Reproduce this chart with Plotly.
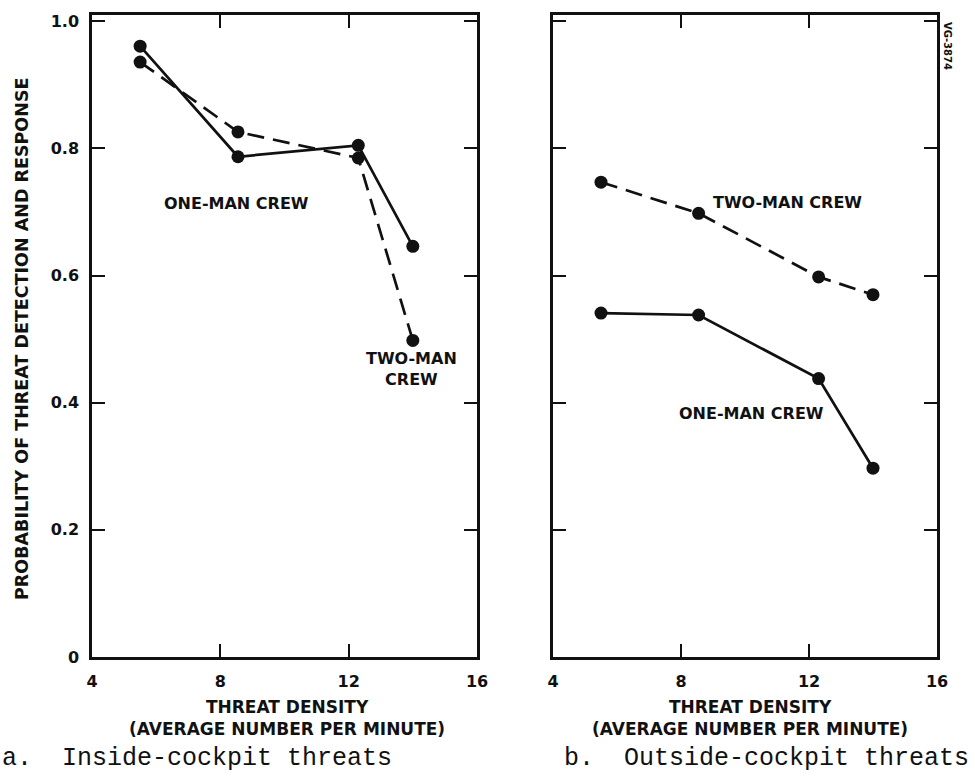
import plotly.graph_objects as go
from plotly.subplots import make_subplots

# threat density (average number per minute)
density = [5.5, 8.55, 12.3, 14.0]

# a. inside-cockpit threats
inside_one_man = [0.961, 0.787, 0.805, 0.646]
inside_two_man = [0.936, 0.826, 0.785, 0.498]

# b. outside-cockpit threats
outside_one_man = [0.541, 0.538, 0.438, 0.297]
outside_two_man = [0.747, 0.698, 0.598, 0.570]

x_ticks = [4, 8, 12, 16]
y_ticks = [0, 0.2, 0.4, 0.6, 0.8, 1.0]
y_tick_text = ["0", "0.2", "0.4", "0.6", "0.8", "1.0"]

SANS = "DejaVu Sans, Liberation Sans, sans-serif"
MONO = "Liberation Mono, DejaVu Sans Mono, monospace"
INK = "#111111"

fig = make_subplots(rows=1, cols=2)

panels = [
    (1, inside_one_man, inside_two_man),
    (2, outside_one_man, outside_two_man),
]
for col, one_man, two_man in panels:
    fig.add_trace(
        go.Scatter(
            x=density, y=one_man, mode="lines+markers",
            line=dict(color=INK, width=2.7),
            marker=dict(color=INK, size=13),
            showlegend=False,
        ),
        row=1, col=col,
    )
    fig.add_trace(
        go.Scatter(
            x=density, y=two_man, mode="lines+markers",
            line=dict(color=INK, width=2.7, dash="17px,9px"),
            marker=dict(color=INK, size=13),
            showlegend=False,
        ),
        row=1, col=col,
    )

axis_common = dict(
    showline=True, linecolor=INK, linewidth=2.5, mirror="ticks",
    ticks="inside", ticklen=13, tickwidth=2, tickcolor=INK,
    showgrid=False, zeroline=False, automargin=False,
    tickfont=dict(family=SANS, size=16, color=INK, weight="bold"),
)

fig.update_xaxes(
    range=[4, 16], tickvals=x_ticks, ticklabelstandoff=8, **axis_common
)
fig.update_yaxes(
    range=[0, 1.01], tickvals=y_ticks, ticktext=y_tick_text,
    ticklabelstandoff=7, **axis_common
)
fig.update_yaxes(showticklabels=False, row=1, col=2)

fig.update_layout(
    width=975, height=778,
    margin=dict(l=0, r=0, t=0, b=0),
    paper_bgcolor="white", plot_bgcolor="white",
    xaxis=dict(domain=[92 / 975, 477 / 975]),
    xaxis2=dict(domain=[553 / 975, 937 / 975]),
    yaxis=dict(domain=[1 - 657 / 778, 1 - 15 / 778]),
    yaxis2=dict(domain=[1 - 657 / 778, 1 - 15 / 778]),
)

label_font = dict(family=SANS, size=16, color=INK, weight="bold")

# curve labels
fig.add_annotation(x=8.5, y=0.714, xref="x", yref="y", text="ONE-MAN CREW",
                   showarrow=False, font=label_font)
fig.add_annotation(x=13.95, y=0.453, xref="x", yref="y", text="TWO-MAN<br>CREW",
                   showarrow=False, font=label_font)
fig.add_annotation(x=11.34, y=0.715, xref="x2", yref="y2", text="TWO-MAN CREW",
                   showarrow=False, font=label_font)
fig.add_annotation(x=10.2, y=0.383, xref="x2", yref="y2", text="ONE-MAN CREW",
                   showarrow=False, font=label_font)

# axis titles
fig.add_annotation(x=22 / 975, y=1 - 339 / 778, xref="paper", yref="paper",
                   xanchor="center", yanchor="middle",
                   text="PROBABILITY OF THREAT DETECTION AND RESPONSE",
                   textangle=-90, showarrow=False,
                   font=dict(family=SANS, size=17.5, color=INK, weight="bold"))
for cx in (287, 750):
    fig.add_annotation(x=cx / 975, y=1 - 718 / 778, xref="paper", yref="paper",
                       xanchor="center", yanchor="middle",
                       text="THREAT DENSITY<br>(AVERAGE NUMBER PER MINUTE)",
                       showarrow=False,
                       font=dict(family=SANS, size=17, color=INK, weight="bold"))

# captions
caption_font = dict(family=MONO, size=25, color=INK)
fig.add_annotation(x=0, y=1 - 758 / 778, xref="paper", yref="paper",
                   xanchor="left", yanchor="middle",
                   text="a.  Inside-cockpit threats",
                   showarrow=False, font=caption_font)
fig.add_annotation(x=562 / 975, y=1 - 758 / 778, xref="paper", yref="paper",
                   xanchor="left", yanchor="middle",
                   text="b.  Outside-cockpit threats",
                   showarrow=False, font=caption_font)

# figure id
fig.add_annotation(x=948 / 975, y=1 - 46 / 778, xref="paper", yref="paper",
                   xanchor="center", yanchor="middle",
                   text="VG-3874", textangle=90, showarrow=False,
                   font=dict(family=SANS, size=10, color=INK, weight="bold"))

# drop the default page margin so the figure sits at the window corner
fig.write_html(
    "out.html",
    config={"displayModeBar": False},
    post_script="document.body.style.margin='0px';",
)
